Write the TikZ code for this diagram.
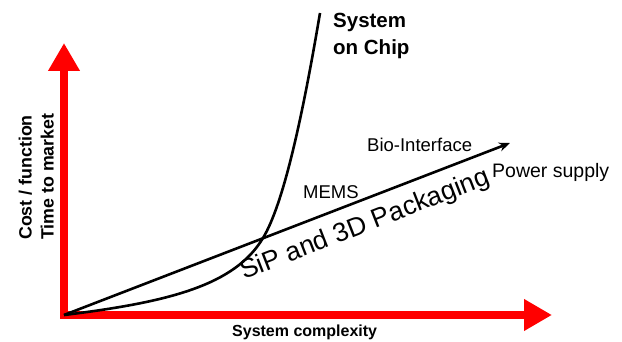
\documentclass[tikz,border=0pt]{standalone}
\usepackage{fontspec}
\setmainfont{Liberation Sans}
\usepackage{tikz}
\usetikzlibrary{positioning}
\usetikzlibrary{arrows.meta}

\begin{document}
\begin{tikzpicture}[x=1pt,y=-1pt,line join=round,
  axis/.style={red,line width=8pt,line cap=rect,-{Triangle[width=30pt,length=28pt]}},
  trend/.style={line width=2.6pt},
  lbl/.style={inner sep=0pt,font=\fontsize{18.5}{22}\selectfont}]
\useasboundingbox (0,0) rectangle (622,342);

\coordinate (O)   at (64,315);
\coordinate (ytip) at (64,43);
\coordinate (xtip) at (552,315);
\coordinate (bio) at (510,143);
\coordinate (cross) at (263,238);
\coordinate (soc) at (320,13);

\draw[axis] (O) -- (ytip);
\draw[axis] (O) -- (xtip);

\draw[trend,-{Stealth[length=11pt,width=9pt]}] (O) -- (bio);
\draw[trend] (O) .. controls (170,302) and (235,285) .. (cross)
      .. controls (283,205) and (302,120) .. (soc);

\node[lbl,anchor=north west,align=left,font=\fontsize{20.5}{27}\selectfont\bfseries]
      (soclabel) at (333,13) {System\\on Chip};
\node[lbl,anchor=base west] (mems)  at (303,199) {MEMS};
\node[lbl,anchor=base west] (biolabel) at (367,152) {Bio-Interface};
\node[lbl,anchor=base west,font=\fontsize{19.5}{22}\selectfont] (power) at (492,178) {Power supply};
\node[lbl,anchor=base west,rotate=21.3,font=\fontsize{26.5}{30}\selectfont]
      (sip) at (244,280) {SiP and 3D Packaging};
\node[lbl,anchor=base west,font=\fontsize{16}{19}\selectfont\bfseries]
      (xlabel) at (232,337) {System complexity};
\node[lbl,anchor=south west,rotate=90,align=left,font=\fontsize{17.8}{22}\selectfont\bfseries]
      (ylabel) at (54,240) {Cost / function\\Time to market};

\end{tikzpicture}
\end{document}
